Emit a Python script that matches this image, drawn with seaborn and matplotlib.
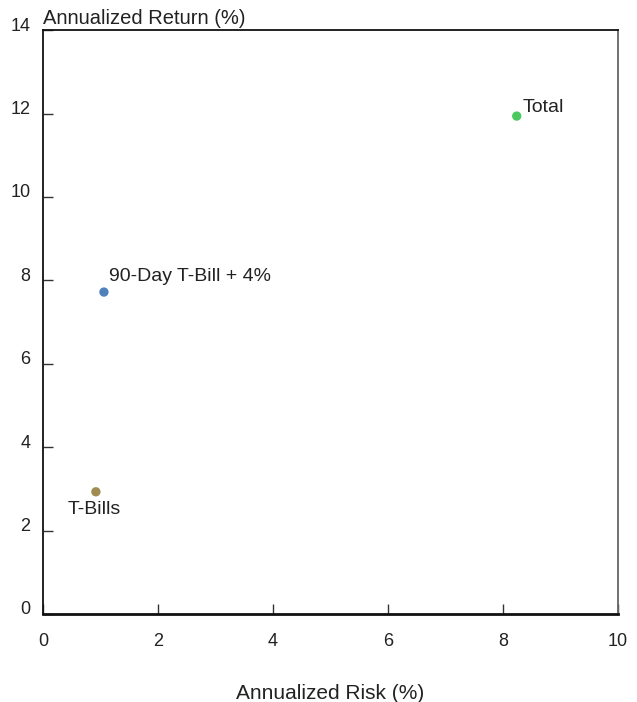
import pandas as pd
import seaborn as sns
import matplotlib.pyplot as plt
import matplotlib.transforms as mtransforms

# data
names = ['Total', '90-Day T-Bill + 4%', 'T-Bills']
risk = [8.24, 1.06, 0.92]
ret = [11.94, 7.72, 2.93]
colors = ['#4cc860', '#4f81bd', '#a08c50']

sns.set_style('white')
plt.rcParams['font.family'] = ['Liberation Sans', 'DejaVu Sans']

df = pd.DataFrame({'name': names, 'risk': risk, 'ret': ret})

fig = plt.figure(figsize=(6.37, 7.02), dpi=100)
ax = fig.add_axes([0.0675, 0.1254, 0.9025, 0.8316])
sns.scatterplot(data=df, x='risk', y='ret', hue='name', palette=colors,
                s=45, edgecolor='none', legend=False, ax=ax)

# labels next to points (offsets in points)
offsets = {'Total': (4, 6),
           '90-Day T-Bill + 4%': (4, 11),
           'T-Bills': (-20, -13)}
for n, x, y in zip(names, risk, ret):
    dx, dy = offsets[n]
    ax.annotate(n, (x, y), xytext=(dx, dy), textcoords='offset points',
                ha='left', va='center', fontsize=14, color='#222222')

ax.set_xlim(0, 10)
ax.set_ylim(0, 14)
ax.set_xticks(range(0, 11, 2))
ax.set_yticks(range(0, 15, 2))
ax.tick_params(axis='both', direction='in', length=7, width=1, color='#333333',
               labelsize=13, labelcolor='#222222', bottom=True, left=True)
ax.tick_params(axis='x', pad=14)
ax.tick_params(axis='y', pad=9)

# y labels sit a little above their ticks
shift = mtransforms.ScaledTranslation(0, 6 / 100, fig.dpi_scale_trans)
for lab in ax.get_yticklabels():
    lab.set_transform(lab.get_transform() + shift)

for side in ['left', 'bottom', 'top']:
    ax.spines[side].set_color('#111111')
    ax.spines[side].set_linewidth(1.3)
ax.spines['right'].set_color('#666666')
ax.spines['right'].set_linewidth(1.3)
ax.spines['bottom'].set_linewidth(2)

ax.set_xlabel('Annualized Risk (%)', fontsize=15, labelpad=24, color='#222222')
ax.set_ylabel('')
ax.text(0.0, 1.003, 'Annualized Return (%)', transform=ax.transAxes,
        fontsize=14.5, ha='left', va='bottom', color='#222222')

fig.savefig('out.png', dpi=100)
